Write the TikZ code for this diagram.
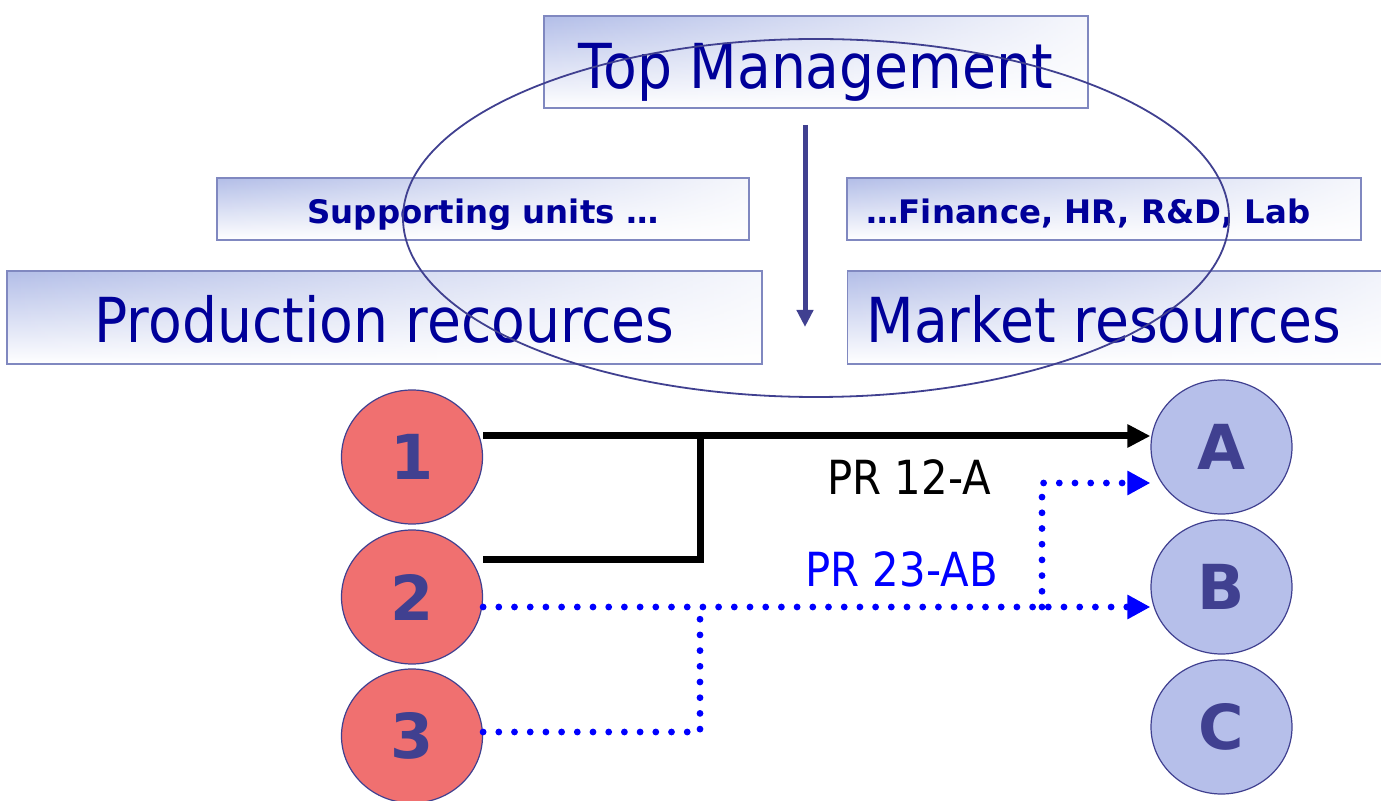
\documentclass[tikz,border=0pt]{standalone}
\usepackage{fontspec}
\setmainfont{DejaVu Sans}[FakeStretch=0.89]
\newfontfamily\heavyfont{DejaVu Sans}
\usetikzlibrary{arrows.meta,fadings,shapes.geometric}

\definecolor{txtblue}{HTML}{000099}
\definecolor{slate}{HTML}{404090}
\definecolor{boxedge}{HTML}{8088C0}
\definecolor{boxtint}{HTML}{B3BEE8}
\definecolor{redfill}{HTML}{F07070}
\definecolor{bluefill}{HTML}{B6BFEA}
\definecolor{linkblue}{HTML}{0000FF}

% white wash that grows from left to right over each panel
\tikzfading[name=washright, left color=transparent!100, right color=transparent!12]

\tikzset{
  panel/.style={rectangle, draw=boxedge, line width=0.8pt, inner sep=0pt,
    top color=boxtint, bottom color=white,
    path picture={\fill[white, path fading=washright]
      (path picture bounding box.south west) rectangle (path picture bounding box.north east);}},
  bigtext/.style={text=txtblue, inner sep=0pt, font=\fontsize{31}{31}\selectfont},
  unittext/.style={text=txtblue, inner sep=0pt, font=\heavyfont\bfseries\fontsize{16.2}{16.2}\selectfont},
  plant/.style={ellipse, draw=slate, line width=0.6pt, fill=redfill, inner sep=0pt,
    minimum width=70.5pt, minimum height=67pt, text=slate,
    font=\heavyfont\bfseries\fontsize{31}{31}\selectfont},
  market/.style={plant, fill=bluefill},
  wire/.style={line width=3.5pt},
  dotwire/.style={linkblue, line width=3.4pt, line cap=round, dash pattern=on 0pt off 7.85pt},
  blacktip/.style={-{Triangle[length=11.5pt,width=11pt]}},
  bluetip/.style={-{Triangle[length=11.5pt,width=11.5pt,fill=linkblue]}},
  linklabel/.style={inner sep=0pt, font=\fontsize{23.5}{23.5}\selectfont},
}

\begin{document}
\begin{tikzpicture}[x=0.5pt, y=-0.5pt]
\useasboundingbox (0,0) rectangle (1381,801);

% organisation panels
\node[panel, minimum width=272pt, minimum height=46pt] (top) at (816,62) {};
\node[panel, minimum width=266pt, minimum height=31pt] (sup) at (483,209) {};
\node[panel, minimum width=257pt, minimum height=31pt] (fin) at (1104,209) {};
\node[panel, minimum width=377.5pt, minimum height=46.5pt] (prod) at (384.5,317.5) {};
\node[panel, minimum width=285pt, minimum height=46.5pt] (mkt) at (1132.5,317.5) {};

\node[bigtext, anchor=base] (toptext) at (816,89) {Top Management};
\node[unittext, anchor=base] (suptext) at (483,224) {Supporting units …};
\node[unittext, anchor=base west] (fintext) at (866,224) {…Finance, HR, R\&D, Lab};
\node[bigtext, anchor=base] (prodtext) at (384.5,343) {Production recources};
\node[bigtext, anchor=base west] (mkttext) at (866,343) {Market resources};

% scope ellipse around management and units
\draw[slate, line width=0.9pt] (816,218) ellipse [x radius=206.5pt, y radius=89.5pt];

% top-down arrow
\coordinate (vt) at (805,125);
\coordinate (vb) at (805,327);
\draw[slate, line width=2.5pt, -{Triangle[length=8.5pt,width=8pt]}] (vt) -- (vb);

% plants and markets
\node[plant] (n1) at (412,457) {1};
\node[plant] (n2) at (412,597) {2};
\node[plant] (n3) at (412,736) {3};
\node[market] (nA) at (1221.5,447) {A};
\node[market] (nB) at (1221.5,587) {B};
\node[market] (nC) at (1221.5,727) {C};

% route PR 12-A
\coordinate (b1) at ([yshift=10.5pt]n1.east);
\coordinate (b2) at ([yshift=18.5pt]n2.east);
\coordinate (jb) at (700,436);
\draw[wire, blacktip] (b1) -- (b1 -| nA.west);
\draw[wire] (b2) -| (jb);

% route PR 23-AB
\coordinate (d2) at ([yshift=-5pt]n2.east);
\coordinate (d3) at ([yshift=2pt]n3.east);
\coordinate (jd) at (700,607);
\coordinate (ju) at (1042,607);
\coordinate (u1) at ([yshift=-18pt]nA.west);
\draw[dotwire, bluetip] (d2) -- (d2 -| nB.west);
\draw[dotwire] (d3) -| (jd);
\draw[dotwire, bluetip] (ju) |- (u1);

\node[linklabel, anchor=base west] (l12) at (827,495) {PR 12-A};
\node[linklabel, anchor=base west, text=linkblue] (l23) at (805,587) {PR 23-AB};
\end{tikzpicture}
\end{document}
